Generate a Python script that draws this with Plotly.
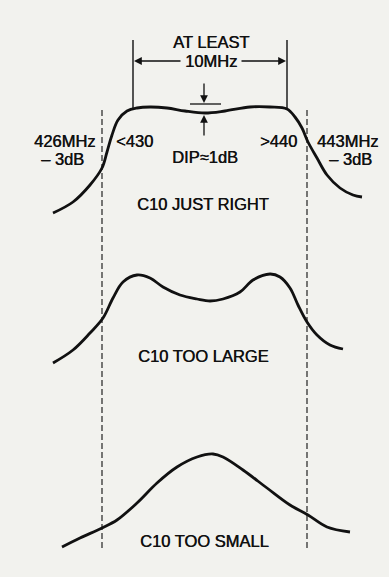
import plotly.graph_objects as go

# Response curves for the three C10 settings (diagram units, y grows downward)
just_right_x = [53, 73, 90, 102, 107, 112, 118, 127, 137, 150, 167, 185, 205, 225, 250, 270,
                287, 295, 302, 308, 317, 327, 340, 353, 362]
just_right_y = [213, 202, 185, 168, 152, 135, 120, 111, 108, 107, 108, 111, 113, 111, 107, 107,
                109, 117, 128, 142, 158, 175, 188, 195, 197]

too_large_x = [53, 73, 90, 103, 113, 123, 137, 150, 163, 180, 197, 210, 223, 240, 253, 270,
               280, 290, 298, 307, 317, 330, 343]
too_large_y = [363, 350, 333, 318, 298, 282, 275, 278, 287, 295, 299, 301, 299, 292, 280, 274,
               277, 288, 305, 322, 335, 345, 349]

too_small_x = [62, 80, 102, 117, 137, 157, 177, 197, 213, 223, 243, 267, 290, 308, 327, 350]
too_small_y = [547, 538, 528, 520, 503, 483, 467, 457, 454, 457, 470, 488, 505, 515, 527, 532]

# -3dB frequency markers (dashed) and passband edges (solid)
edge_x = [102, 307]
edge_y_span = [110, 550]
band_x = [133, 287]
band_top = 40
band_bottom = [108, 109]

FONT = "Liberation Sans, Arial, sans-serif"
INK = "#111111"

fig = go.Figure()

for x in edge_x:
    fig.add_trace(go.Scatter(
        x=[x, x], y=edge_y_span, mode="lines",
        line=dict(color="#222222", width=1.2, dash="6px,3px"),
        hoverinfo="skip", showlegend=False))

for x, yb in zip(band_x, band_bottom):
    fig.add_trace(go.Scatter(
        x=[x, x], y=[band_top, yb], mode="lines",
        line=dict(color=INK, width=1.4),
        hoverinfo="skip", showlegend=False))

# Dip reference tick
fig.add_trace(go.Scatter(
    x=[190, 221], y=[104, 104], mode="lines",
    line=dict(color=INK, width=1.3), hoverinfo="skip", showlegend=False))

for xs, ys in [(just_right_x, just_right_y), (too_large_x, too_large_y), (too_small_x, too_small_y)]:
    fig.add_trace(go.Scatter(
        x=xs, y=ys, mode="lines",
        line=dict(color=INK, width=2.8, shape="spline", smoothing=1.0),
        hoverinfo="skip", showlegend=False))

labels = [
    ("AT LEAST", 211, 42),
    ("10MHz", 211, 61),
    ("426MHz", 64, 141),
    ("\u2013 3dB", 62, 159),
    ("<430", 134, 141),
    ("DIP\u22481dB", 205, 157),
    (">440", 278, 141),
    ("443MHz", 347, 141),
    ("\u2013 3dB", 350, 159),
    ("C10 JUST RIGHT", 203, 204),
    ("C10 TOO LARGE", 203, 356),
    ("C10 TOO SMALL", 204, 541),
]
for text, x, y in labels:
    fig.add_annotation(x=x, y=y, text=text, showarrow=False,
                       font=dict(family=FONT, size=16.5, color=INK,
                                 shadow="0.4px 0px 0px #111111"),
                       xanchor="center", yanchor="middle")

# Arrows: (head x, head y, tail x, tail y)
arrows = [
    (134, 61, 182, 61),
    (286, 61, 240, 61),
    (204, 103, 204, 82),
    (204, 115, 204, 137),
]
for hx, hy, tx, ty in arrows:
    fig.add_annotation(x=hx, y=hy, ax=tx, ay=ty, xref="x", yref="y",
                       axref="x", ayref="y", text="", showarrow=True,
                       arrowhead=2, arrowsize=1.2, arrowwidth=1.3, arrowcolor=INK)

fig.update_layout(
    width=389, height=577,
    margin=dict(l=0, r=0, t=0, b=0),
    paper_bgcolor="#f2f2ee", plot_bgcolor="#f2f2ee",
    xaxis=dict(range=[0, 389], visible=False, fixedrange=True),
    yaxis=dict(range=[577, 0], visible=False, fixedrange=True),
)

fig.write_html("out.html")
